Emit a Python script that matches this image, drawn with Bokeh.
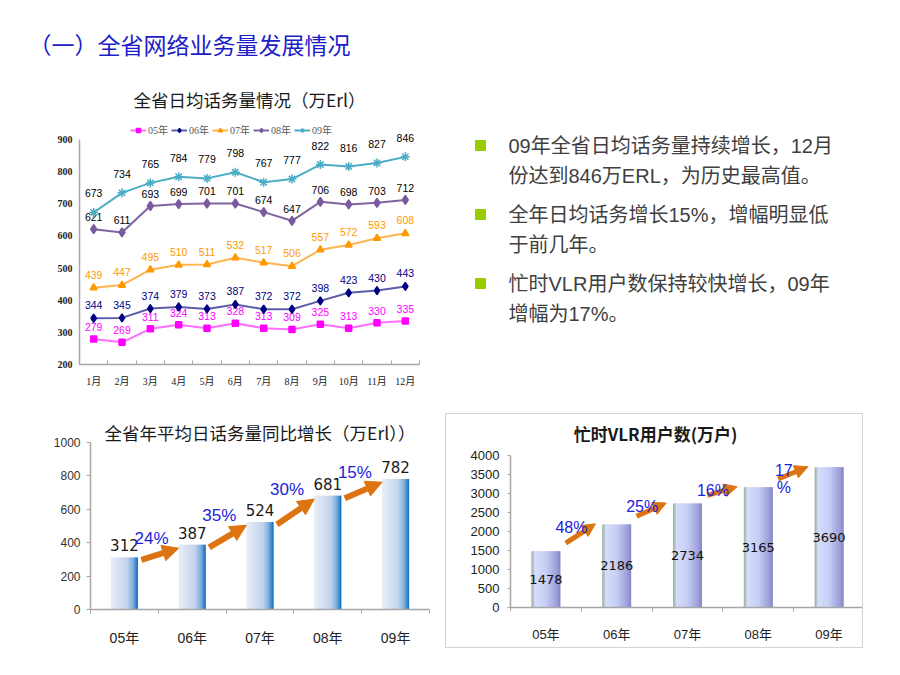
from bokeh.plotting import figure
from bokeh.models import Range1d, FixedTicker, Legend, LegendItem, Arrow, NormalHead, Spacer
from bokeh.layouts import column, row
from bokeh.embed import file_html
from bokeh.resources import INLINE
from bokeh.core.properties import value

# ---------------- data ----------------
months = ["1月", "2月", "3月", "4月", "5月", "6月", "7月", "8月", "9月", "10月", "11月", "12月"]
line_years = ["05年", "06年", "07年", "08年", "09年"]
traffic_05 = [279, 269, 311, 324, 313, 328, 313, 309, 325, 313, 330, 335]
traffic_06 = [344, 345, 374, 379, 373, 387, 372, 372, 398, 423, 430, 443]
traffic_07 = [439, 447, 495, 510, 511, 532, 517, 506, 557, 572, 593, 608]
traffic_08 = [621, 611, 693, 699, 701, 701, 674, 647, 706, 698, 703, 712]
traffic_09 = [673, 734, 765, 784, 779, 798, 767, 777, 822, 816, 827, 846]
line_yticks = [200, 300, 400, 500, 600, 700, 800, 900]

year_cats = ["05年", "06年", "07年", "08年", "09年"]
avg_traffic = [312, 387, 524, 681, 782]
avg_growth = ["24%", "35%", "30%", "15%"]
bar1_yticks = [0, 200, 400, 600, 800, 1000]

vlr_users = [1478, 2186, 2734, 3165, 3690]
vlr_growth = ["48%", "25%", "16%", "17\n%"]
bar2_yticks = [0, 500, 1000, 1500, 2000, 2500, 3000, 3500, 4000]

page_title = "（一）全省网络业务量发展情况"
line_title = "全省日均话务量情况（万Erl）"
bar1_title = "全省年平均日话务量同比增长（万Erl））"
bar2_title = "忙时VLR用户数(万户)"
bullets = [
    ["09年全省日均话务量持续增长，12月", "份达到846万ERL，为历史最高值。"],
    ["全年日均话务增长15%，增幅明显低", "于前几年。"],
    ["忙时VLR用户数保持较快增长，09年", "增幅为17%。"],
]

# ---------------- styles ----------------
CJK = "Noto Sans CJK SC"
SANS = "Liberation Sans, Noto Sans CJK SC"
SERIF = "Liberation Serif, Noto Sans CJK SC"
NARROW = "Liberation Sans Narrow, Liberation Sans, Noto Sans CJK SC"
ORANGE = "#DD7411"
PCT_BLUE = "#2222DD"
AXIS_GRAY = "#A6A6A6"


def hex2rgb(h):
    return tuple(int(h[i:i + 2], 16) for i in (1, 3, 5))


def grad(stops, t):
    for (t0, c0), (t1, c1) in zip(stops, stops[1:]):
        if t <= t1:
            f = (t - t0) / (t1 - t0) if t1 > t0 else 0.0
            a, b = hex2rgb(c0), hex2rgb(c1)
            return "#%02x%02x%02x" % tuple(round(a[k] + (b[k] - a[k]) * f) for k in range(3))
    return stops[-1][1]


def clean(p):
    p.xgrid.visible = False
    p.ygrid.visible = False
    p.outline_line_color = None
    p.background_fill_color = None
    p.border_fill_color = None


def blank_fig(w, h, bottom=0):
    p = figure(width=w, height=h, x_range=Range1d(0, w), y_range=Range1d(h - bottom, 0),
               output_backend="svg", toolbar_location=None,
               x_axis_location=None, y_axis_location=None,
               min_border=0, min_border_left=0, min_border_right=0,
               min_border_top=0, min_border_bottom=bottom)
    clean(p)
    return p


def gradient_bars(p, values, width, stops, k=20):
    xs, tops, cols, ws = [], [], [], []
    sw = width / k
    for i, v in enumerate(values):
        for j in range(k):
            t = (j + 0.5) / k
            left = i - width / 2 + j * sw
            w = sw * 1.8 if j < k - 1 else sw
            xs.append(left + w / 2)
            ws.append(w)
            tops.append(v)
            cols.append(grad(stops, t))
    p.vbar(x=xs, top=tops, bottom=0, width=ws, fill_color=cols, line_color=None)


def cat_xaxis(p, cats, font, size, standoff, tick_in, tick_out):
    n = len(cats)
    ax = p.xaxis[0]
    ax.ticker = FixedTicker(ticks=list(range(n)), minor_ticks=[i - 0.5 for i in range(n + 1)])
    ax.major_label_overrides = {i: c for i, c in enumerate(cats)}
    ax.major_tick_line_color = None
    ax.major_tick_in = 0
    ax.major_tick_out = 0
    ax.minor_tick_in = tick_in
    ax.minor_tick_out = tick_out
    ax.minor_tick_line_color = AXIS_GRAY
    ax.axis_line_color = AXIS_GRAY
    ax.axis_line_width = 1.5
    ax.major_label_text_font = font
    ax.major_label_text_font_size = size
    ax.major_label_text_color = "#222222"
    ax.major_label_standoff = standoff


# ---------------- header ----------------
WH, HH = 884, 80
ph = blank_fig(WH, HH)
ph.text(x=[20], y=[35], text=[page_title], text_align="left", text_baseline="middle",
        text_font=value(CJK), text_font_size="23px", text_color="#1C1CC8")

# ---------------- line chart ----------------
W1, H1 = 440, 310
L1, R1, B1 = 71, 29, 34
ppu1 = 225 / 700
ymax1 = 200 + (H1 - B1) / ppu1
p1 = figure(width=W1, height=H1, x_range=Range1d(-0.5, 11.5), y_range=Range1d(200, ymax1),
            output_backend="svg", toolbar_location=None,
            min_border_left=L1, min_border_right=R1, min_border_top=0, min_border_bottom=B1)
clean(p1)
cat_xaxis(p1, months, SERIF, "10px", 11, 4, 0)
ya = p1.yaxis[0]
ya.ticker = FixedTicker(ticks=line_yticks)
ya.bounds = (line_yticks[0], line_yticks[-1])
ya.axis_line_color = AXIS_GRAY
ya.axis_line_width = 1.5
ya.major_tick_in = 0
ya.major_tick_out = 0
ya.minor_tick_line_color = None
ya.major_label_text_font = SERIF
ya.major_label_text_font_size = "10px"
ya.major_label_text_font_style = "bold"
ya.major_label_text_color = "#222222"
ya.major_label_standoff = 7

series = [
    (line_years[0], traffic_05, "#FF6EFF", "#FF00FF", "square", 6, "#FF00FF", 12),
    (line_years[1], traffic_06, "#5C5CAA", "#000080", "diamond", 8, "#000080", 13),
    (line_years[2], traffic_07, "#FFB54D", "#FF9900", "triangle", 7, "#FF9900", 13),
    (line_years[3], traffic_08, "#8064A2", "#7A5A9E", "diamond", 9, "#000000", 12),
    (line_years[4], traffic_09, "#4BACC6", "#4BACC6", "asterisk", 9, "#000000", 19),
]
items = []
idx12 = list(range(len(months)))
for name, vals, lc, mc, mk, ms, tc, off in series:
    lr = p1.line(idx12, vals, line_color=lc, line_width=2)
    sr = p1.scatter(idx12, vals, marker=mk, size=ms, fill_color=mc, line_color=mc, line_width=1.5)
    p1.text(x=idx12, y=[v + off / ppu1 for v in vals], text=[str(v) for v in vals],
            text_align="center", text_baseline="middle", text_font=value(NARROW),
            text_font_size="10.5px", text_color=tc)
    items.append(LegendItem(label=name, renderers=[lr, sr]))

p1.text(x=[5.5], y=[ymax1 - 11 / ppu1], text=[line_title], text_align="center",
        text_baseline="middle", text_font=value(CJK), text_font_size="17.5px", text_color="#1A1A1A")

leg = Legend(items=items, location=(51, 227), orientation="horizontal",
             background_fill_alpha=0, border_line_color=None,
             label_text_font=SERIF, label_text_font_size="10px", label_text_color="#595959",
             glyph_width=16, glyph_height=10, spacing=3, padding=0, margin=0, label_standoff=2,
             label_height=10)
p1.add_layout(leg)

# ---------------- bullet text ----------------
W2, H2 = 444, 310
p2 = blank_fig(W2, H2, bottom=B1)
bx, by, tx, ty = [], [], [], []
ttext = []
for k, lines in enumerate(bullets):
    y0 = 57 + 69 * k
    bx.append(32)
    by.append(y0)
    for j, ln in enumerate(lines):
        tx.append(60)
        ty.append(y0 + 30 * j)
        ttext.append(ln)
p2.scatter(bx, by, marker="square", size=10, fill_color="#99CC00", line_color="#99CC00")
p2.text(x=tx, y=ty, text=ttext, text_align="left", text_baseline="middle",
        text_font=value(SANS), text_font_size="20px", text_color="#404040")

# ---------------- bar chart 1 ----------------
W3, H3 = 437, 269
L3, R3, B3 = 82, 16, 58
ppu3 = 167 / 1000
ymax3 = (H3 - B3) / ppu3
p3 = figure(width=W3, height=H3, x_range=Range1d(-0.5, 4.5), y_range=Range1d(0, ymax3),
            output_backend="svg", toolbar_location=None,
            min_border_left=L3, min_border_right=R3, min_border_top=0, min_border_bottom=B3)
clean(p3)
cat_xaxis(p3, year_cats, SANS, "14px", 16, 0, 4)
ya = p3.yaxis[0]
ya.ticker = FixedTicker(ticks=bar1_yticks)
ya.bounds = (bar1_yticks[0], bar1_yticks[-1])
ya.axis_line_color = AXIS_GRAY
ya.axis_line_width = 1.5
ya.major_tick_line_color = AXIS_GRAY
ya.major_tick_in = 0
ya.major_tick_out = 4
ya.minor_tick_line_color = None
ya.major_label_text_font = SANS
ya.major_label_text_font_size = "12px"
ya.major_label_text_color = "#333333"
ya.major_label_standoff = 6

idx5 = list(range(len(year_cats)))
gradient_bars(p3, avg_traffic, 0.40,
              [(0.0, "#E8EEF7"), (0.6, "#C3D4EC"), (0.82, "#7FADDF"), (1.0, "#0B6CC0")])
p3.text(x=idx5, y=[v + 12 / ppu3 for v in avg_traffic], text=[str(v) for v in avg_traffic],
        text_align="center", text_baseline="middle", text_font=value("DejaVu Sans"),
        text_font_size="15px", text_color="#1A1A1A")
for i, g in enumerate(avg_growth):
    p3.add_layout(Arrow(end=NormalHead(size=16, fill_color=ORANGE, line_color=ORANGE),
                        x_start=i + 0.25, y_start=avg_traffic[i] - 15,
                        x_end=i + 0.8, y_end=avg_traffic[i + 1] - 20,
                        line_color=ORANGE, line_width=6))
r = p3.text(x=[i + 0.4 for i in range(len(avg_growth))],
            y=[avg_traffic[i + 1] + 40 for i in range(len(avg_growth))], text=avg_growth,
            text_align="center", text_baseline="middle", text_font=value(SANS),
            text_font_size="17px", text_color=PCT_BLUE)
r.level = "overlay"
p3.text(x=[2.0], y=[ymax3 - 34 / ppu3], text=[bar1_title], text_align="center",
        text_baseline="middle", text_font=value(CJK), text_font_size="17.5px", text_color="#1A1A1A")

# ---------------- bar chart 2 ----------------
W4, H4 = 418, 235
L4, R4, B4 = 64, 0, 42
ppu4 = 152 / 4000
ymax4 = (H4 - B4) / ppu4
p4 = figure(width=W4, height=H4, x_range=Range1d(-0.5, 4.5), y_range=Range1d(0, ymax4),
            output_backend="svg", toolbar_location=None,
            min_border_left=L4, min_border_right=R4, min_border_top=0, min_border_bottom=B4,
            styles={"border": "1px solid #D4D4D4"})
clean(p4)
cat_xaxis(p4, year_cats, SANS, "13px", 15, 0, 4)
ya = p4.yaxis[0]
ya.ticker = FixedTicker(ticks=bar2_yticks)
ya.bounds = (bar2_yticks[0], bar2_yticks[-1])
ya.axis_line_color = AXIS_GRAY
ya.axis_line_width = 1.5
ya.major_tick_line_color = AXIS_GRAY
ya.major_tick_in = 0
ya.major_tick_out = 3
ya.minor_tick_line_color = None
ya.major_label_text_font = SANS
ya.major_label_text_font_size = "13px"
ya.major_label_text_color = "#222222"
ya.major_label_standoff = 8

gradient_bars(p4, vlr_users, 0.41,
              [(0.0, "#9FB3A9"), (0.06, "#A9BBB4"), (0.1, "#D6DEFB"), (0.5, "#C6CEF4"),
               (0.85, "#9EA2DA"), (1.0, "#8486C6")])
p4.text(x=idx5, y=[v / 2 for v in vlr_users], text=[str(v) for v in vlr_users],
        text_align="center", text_baseline="middle", text_font=value("DejaVu Sans"),
        text_font_size="13px", text_color="#111111")
for i, g in enumerate(vlr_growth):
    p4.add_layout(Arrow(end=NormalHead(size=13, fill_color=ORANGE, line_color=ORANGE),
                        x_start=i + 0.28, y_start=vlr_users[i] + 215,
                        x_end=i + 0.7, y_end=vlr_users[i + 1] + 15,
                        line_color=ORANGE, line_width=5))
r = p4.text(x=[i + 0.36 for i in range(len(vlr_growth))],
            y=[vlr_users[i + 1] + 150 for i in range(len(vlr_growth))], text=vlr_growth,
            text_align="center", text_baseline="top", text_font=value(SANS),
            text_font_size="16px", text_color=PCT_BLUE, text_line_height=1.0)
r.level = "overlay"
p4.text(x=[1.55], y=[ymax4 - 19 / ppu4], text=[bar2_title], text_align="center",
        text_baseline="middle", text_font=value(CJK), text_font_size="17px",
        text_font_style="bold", text_color="#1A1A1A")

layout = row(
    Spacer(width=8, height=8),
    column(
        Spacer(width=8, height=8),
        ph,
        row(p1, p2),
        row(p3, column(Spacer(width=W4, height=15), p4)),
    ),
)

open("out.html", "w").write(file_html(layout, INLINE))
